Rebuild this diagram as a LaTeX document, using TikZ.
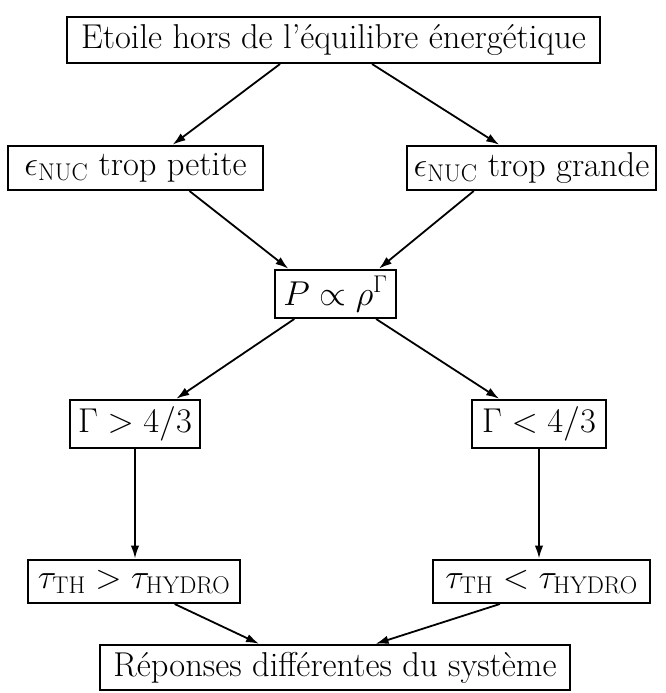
\documentclass[tikz,border=0pt]{standalone}
\usepackage{fix-cm}
\usetikzlibrary{arrows.meta,calc}
\tikzset{
  box/.style={draw, line width=2pt, inner sep=0pt, align=center, font=\fontsize{34.5}{40}\selectfont},
  conn/.style={line width=1.8pt, -{Latex[length=13pt,width=8.5pt]}, shorten >=0.5pt}
}
\newcommand{\bp}[3]{($(#1.south west)!#2!(#1.south east)$)}
\newcommand{\tp}[3]{($(#1.north west)!#2!(#1.north east)$)}
\begin{document}
\begin{tikzpicture}[x=1pt,y=-1pt]
\useasboundingbox (0,0) rectangle (665,693);
\node[box, minimum width=533pt, minimum height=46pt] (top) at (333.5,40) {Etoile hors de l'équilibre énergétique};
\node[box, minimum width=255pt, minimum height=44pt] (pet) at (135.5,168) {$\epsilon_{\rm NUC}$ trop petite};
\node[box, minimum width=249pt, minimum height=44pt] (gra) at (531.5,168) {$\epsilon_{\rm NUC}$ trop grande};
\node[box, minimum width=121pt, minimum height=48pt] (P) at (335.5,294) {$P\propto\rho^{\Gamma}$};
\node[box, minimum width=130pt, minimum height=48pt] (g1) at (135,424) {$\Gamma>4/3$};
\node[box, minimum width=134pt, minimum height=48pt] (g2) at (539,424) {$\Gamma<4/3$};
\node[box, minimum width=212pt, minimum height=43pt] (t1) at (134,581.5) {$\tau_{\rm TH}>\tau_{\rm HYDRO}$};
\node[box, minimum width=217pt, minimum height=43pt] (t2) at (541.5,581.5) {$\tau_{\rm TH}<\tau_{\rm HYDRO}$};
\node[box, minimum width=470pt, minimum height=45pt] (bot) at (335,667.5) {Réponses différentes du système};
\draw[conn] \bp{top}{0.40}{} -- \tp{pet}{0.643}{};
\draw[conn] \bp{top}{0.572}{} -- \tp{gra}{0.373}{};
\draw[conn] \bp{pet}{0.71}{} -- \tp{P}{0.12}{};
\draw[conn] \bp{gra}{0.27}{} -- \tp{P}{0.85}{};
\draw[conn] \bp{P}{0.165}{} -- \tp{g1}{0.81}{};
\draw[conn] \bp{P}{0.83}{} -- \tp{g2}{0.21}{};
\draw[conn] (g1.south) -- (g1.south |- t1.north);
\draw[conn] (g2.south) -- (g2.south |- t2.north);
\draw[conn] \bp{t1}{0.69}{} -- \tp{bot}{0.34}{};
\draw[conn] \bp{t2}{0.31}{} -- \tp{bot}{0.585}{};
\end{tikzpicture}
\end{document}
